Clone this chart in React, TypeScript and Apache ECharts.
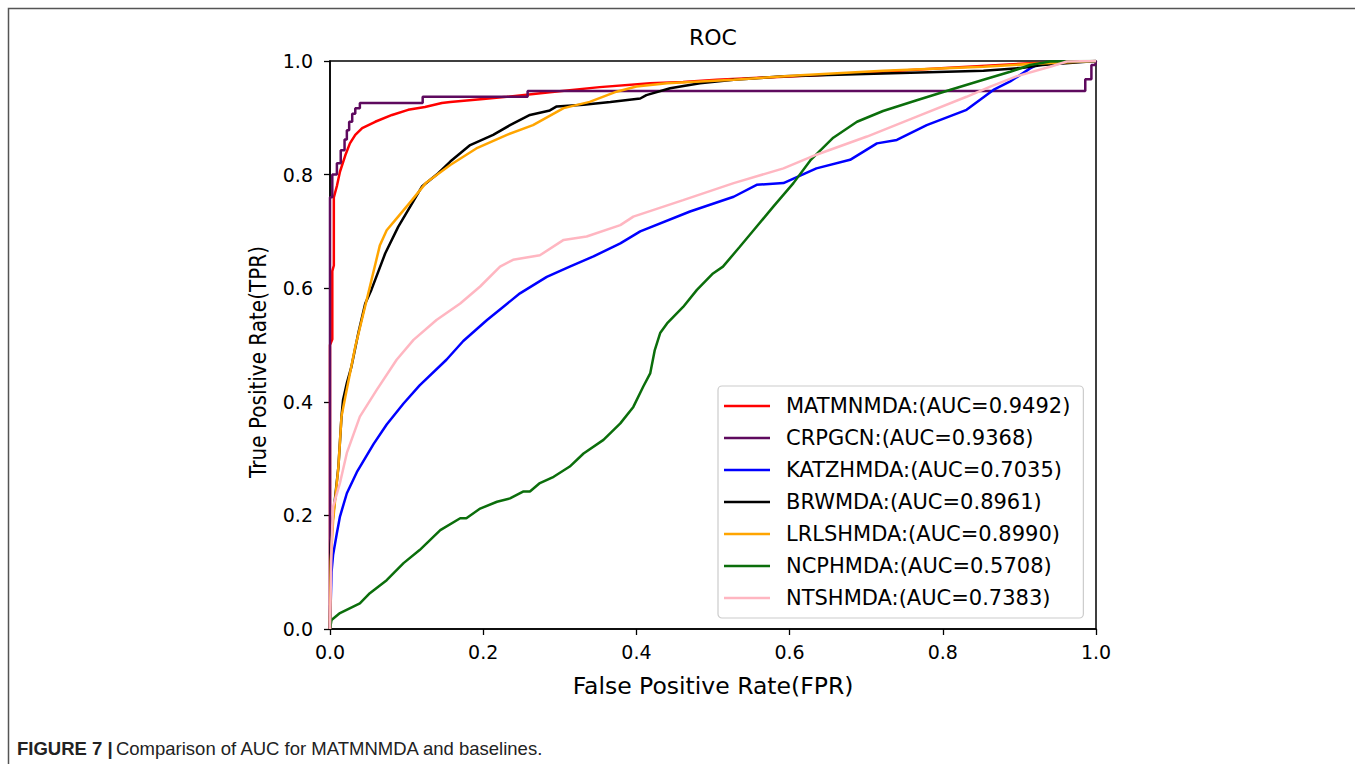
import React, { useEffect, useRef } from "react";
import * as echarts from "echarts";

const seriesNames = [
  "MATMNMDA:(AUC=0.9492)",
  "CRPGCN:(AUC=0.9368)",
  "KATZHMDA:(AUC=0.7035)",
  "BRWMDA:(AUC=0.8961)",
  "LRLSHMDA:(AUC=0.8990)",
  "NCPHMDA:(AUC=0.5708)",
  "NTSHMDA:(AUC=0.7383)",
];

const seriesColors = ["#ff0000", "#5e0a5e", "#0000ff", "#000000", "#ffa500", "#0b6e0b", "#ffb6c1"];

const tickValues = [0, 0.2, 0.4, 0.6, 0.8, 1.0];

// [FPR, TPR]
const matmnmda: number[][] = [
  [0, 0], [0, 0.5], [0.003, 0.51], [0.003, 0.63], [0.005, 0.64], [0.005, 0.76], [0.009, 0.78],
  [0.013, 0.805], [0.02, 0.834], [0.026, 0.855], [0.033, 0.87], [0.042, 0.882], [0.059, 0.893],
  [0.081, 0.905], [0.102, 0.914], [0.124, 0.919], [0.146, 0.926], [0.157, 0.928], [0.2, 0.933],
  [0.231, 0.937], [0.287, 0.945], [0.352, 0.954], [0.418, 0.961], [0.461, 0.963], [0.505, 0.967],
  [0.636, 0.975], [0.72, 0.981], [0.809, 0.988], [0.914, 0.996], [0.957, 0.998], [1, 1],
];

const crpgcn: number[][] = [
  [0, 0], [0, 0.76], [0.003, 0.76], [0.003, 0.8], [0.009, 0.8], [0.009, 0.82], [0.014, 0.82],
  [0.014, 0.843], [0.019, 0.843], [0.019, 0.862], [0.022, 0.862], [0.022, 0.878], [0.025, 0.878],
  [0.025, 0.893], [0.029, 0.893], [0.029, 0.907], [0.033, 0.907], [0.033, 0.917], [0.039, 0.917],
  [0.039, 0.926], [0.121, 0.926], [0.121, 0.937], [0.258, 0.937], [0.258, 0.947], [0.986, 0.947],
  [0.986, 0.968], [0.994, 0.968], [0.994, 0.993], [0.999, 0.993], [1, 1],
];

const katzhmda: number[][] = [
  [0, 0], [0.002, 0.1], [0.004, 0.13], [0.009, 0.169], [0.013, 0.198], [0.022, 0.239], [0.035, 0.276],
  [0.057, 0.326], [0.074, 0.36], [0.096, 0.397], [0.117, 0.429], [0.152, 0.474], [0.174, 0.507],
  [0.205, 0.544], [0.226, 0.567], [0.248, 0.591], [0.283, 0.62], [0.313, 0.638], [0.344, 0.656],
  [0.379, 0.679], [0.405, 0.7], [0.47, 0.735], [0.527, 0.761], [0.557, 0.782], [0.592, 0.785],
  [0.635, 0.811], [0.679, 0.826], [0.714, 0.855], [0.74, 0.861], [0.779, 0.887], [0.831, 0.914],
  [0.866, 0.949], [0.888, 0.964], [0.914, 0.987], [0.927, 0.996], [1, 1],
];

const brwmda: number[][] = [
  [0, 0], [0.001, 0.15], [0.004, 0.198], [0.011, 0.286], [0.015, 0.374], [0.017, 0.403], [0.022, 0.433],
  [0.028, 0.462], [0.037, 0.521], [0.046, 0.573], [0.054, 0.597], [0.072, 0.661], [0.089, 0.708],
  [0.107, 0.749], [0.12, 0.779], [0.141, 0.802], [0.157, 0.823], [0.183, 0.852], [0.213, 0.87],
  [0.235, 0.887], [0.261, 0.905], [0.287, 0.913], [0.296, 0.92], [0.331, 0.923], [0.366, 0.928],
  [0.405, 0.934], [0.413, 0.94], [0.444, 0.952], [0.483, 0.961], [0.527, 0.967], [0.592, 0.973],
  [0.722, 0.978], [0.853, 0.983], [0.905, 0.988], [0.93, 0.993], [1, 1],
];

const lrlshmda: number[][] = [
  [0, 0], [0.001, 0.12], [0.004, 0.19], [0.011, 0.286], [0.015, 0.374], [0.02, 0.409], [0.033, 0.497],
  [0.05, 0.591], [0.065, 0.675], [0.074, 0.702], [0.089, 0.726], [0.107, 0.755], [0.125, 0.785],
  [0.157, 0.817], [0.191, 0.846], [0.231, 0.87], [0.265, 0.887], [0.305, 0.917], [0.339, 0.928],
  [0.374, 0.946], [0.4, 0.955], [0.44, 0.961], [0.527, 0.967], [0.614, 0.975], [0.722, 0.983],
  [0.853, 0.99], [0.92, 0.995], [1, 1],
];

const ncphmda: number[][] = [
  [0, 0], [0.002, 0.016], [0.013, 0.028], [0.039, 0.045], [0.052, 0.063], [0.074, 0.086], [0.096, 0.116],
  [0.117, 0.139], [0.144, 0.174], [0.17, 0.195], [0.178, 0.195], [0.196, 0.212], [0.218, 0.224],
  [0.235, 0.23], [0.252, 0.242], [0.261, 0.242], [0.274, 0.257], [0.292, 0.268], [0.313, 0.286],
  [0.331, 0.309], [0.357, 0.333], [0.379, 0.362], [0.396, 0.391], [0.409, 0.427], [0.418, 0.45],
  [0.424, 0.491], [0.431, 0.521], [0.44, 0.538], [0.461, 0.567], [0.479, 0.597], [0.5, 0.626],
  [0.513, 0.638], [0.535, 0.673], [0.553, 0.702], [0.579, 0.744], [0.605, 0.785], [0.627, 0.825],
  [0.657, 0.865], [0.688, 0.893], [0.722, 0.912], [0.766, 0.931], [0.809, 0.949], [0.853, 0.967],
  [0.888, 0.981], [0.914, 0.993], [0.94, 0.999], [1, 1],
];

const ntshmda: number[][] = [
  [0, 0], [0.002, 0.15], [0.004, 0.215], [0.013, 0.257], [0.022, 0.31], [0.039, 0.374], [0.061, 0.421],
  [0.087, 0.474], [0.109, 0.509], [0.139, 0.544], [0.17, 0.573], [0.196, 0.603], [0.222, 0.638],
  [0.239, 0.65], [0.274, 0.658], [0.305, 0.685], [0.335, 0.691], [0.379, 0.711], [0.396, 0.726],
  [0.461, 0.755], [0.527, 0.785], [0.592, 0.811], [0.635, 0.835], [0.701, 0.867], [0.766, 0.902],
  [0.831, 0.937], [0.862, 0.955], [0.896, 0.973], [0.94, 0.99], [0.962, 0.999], [1, 1],
];

const seriesData = [matmnmda, crpgcn, katzhmda, brwmda, lrlshmda, ncphmda, ntshmda];

const FONT = "'DejaVu Sans', sans-serif";

export default function App() {
  const ref = useRef<HTMLDivElement>(null);
  useEffect(() => {
    document.body.style.margin = "0";
    const chart = echarts.init(ref.current!, null, { renderer: "svg" });
    const axisCommon = {
      type: "value" as const,
      min: 0,
      max: 1,
      interval: 0.2,
      splitLine: { show: false },
      axisLine: { show: true, lineStyle: { color: "#000", width: 1.5 } },
      axisTick: { show: true, inside: false, length: 6, lineStyle: { color: "#000", width: 1.3 } },
    };
    chart.setOption({
      animation: false,
      backgroundColor: "#fff",
      grid: {
        left: 330,
        top: 61,
        width: 766,
        height: 568,
        show: true,
        borderColor: "#000",
        borderWidth: 1.5,
        backgroundColor: "transparent",
      },
      xAxis: {
        ...axisCommon,
        axisLabel: {
          fontSize: 19,
          fontFamily: FONT,
          color: "#000",
          margin: 13,
          showMinLabel: true,
          showMaxLabel: true,
          formatter: (v: number) => (tickValues.includes(Math.round(v * 10) / 10) ? v.toFixed(1) : ""),
        },
      },
      yAxis: {
        ...axisCommon,
        axisLabel: {
          fontSize: 19,
          fontFamily: FONT,
          color: "#000",
          margin: 17,
          showMinLabel: true,
          showMaxLabel: true,
          formatter: (v: number) => v.toFixed(1),
        },
      },
      legend: {
        data: seriesNames,
        orient: "vertical",
        left: 718,
        top: 386,
        icon: "rect",
        itemWidth: 46,
        itemHeight: 2.5,
        itemGap: 10,
        padding: [9, 13, 9, 6],
        borderColor: "#cccccc",
        borderWidth: 1.2,
        borderRadius: 4,
        backgroundColor: "rgba(255,255,255,0.8)",
        textStyle: { fontSize: 21, fontFamily: FONT, color: "#000", lineHeight: 22, padding: [0, 0, 0, 11] },
      },
      series: seriesNames.map((name, i) => ({
        name,
        type: "line",
        data: seriesData[i],
        symbol: "none",
        showSymbol: false,
        color: seriesColors[i],
        lineStyle: { color: seriesColors[i], width: 2.5 },
        z: 2 + i,
        clip: true,
      })),
      graphic: [
        {
          type: "rect",
          silent: true,
          shape: { x: 8.5, y: 8.5, width: 2000, height: 2000 },
          style: { fill: "none", stroke: "#555", lineWidth: 1.5 },
        },
        {
          type: "text",
          x: 713,
          y: 37,
          style: { text: "ROC", fontSize: 22, fontFamily: FONT, fill: "#000", align: "center", verticalAlign: "middle" },
        },
        {
          type: "text",
          x: 713,
          y: 686,
          style: {
            text: "False Positive Rate(FPR)",
            fontSize: 23.5,
            fontFamily: FONT,
            fill: "#000",
            align: "center",
            verticalAlign: "middle",
          },
        },
        {
          type: "text",
          x: 258,
          y: 362,
          rotation: Math.PI / 2,
          scaleY: 1.15,
          style: {
            text: "True Positive Rate(TPR)",
            fontSize: 20,
            fontFamily: FONT,
            fill: "#000",
            align: "center",
            verticalAlign: "middle",
          },
        },
        {
          type: "text",
          x: 17,
          y: 748,
          style: {
            text: "{b|FIGURE 7 |} {r|Comparison of AUC for MATMNMDA and baselines.}",
            verticalAlign: "middle",
            align: "left",
            rich: {
              b: { fontSize: 18.5, fontWeight: "bold", fontFamily: "'Liberation Sans', Arial, sans-serif", fill: "#222" },
              r: { fontSize: 18.5, fontFamily: "'Liberation Sans', Arial, sans-serif", fill: "#222" },
            },
          },
        },
      ],
    });
    return () => chart.dispose();
  }, []);
  return <div ref={ref} style={{ width: 1355, height: 764 }} />;
}
